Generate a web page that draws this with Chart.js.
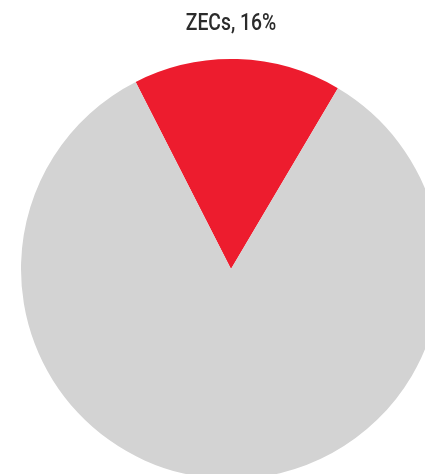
<!DOCTYPE html>
<html>
<head>
<meta charset="utf-8">
<script src="https://cdn.jsdelivr.net/npm/chart.js@4"></script>
<style>
  html, body { margin: 0; padding: 0; width: 425px; height: 474px; overflow: hidden; background: #fff; }
  #wrap { position: relative; width: 425px; height: 474px; overflow: hidden; }
  #box { position: absolute; left: 0; top: 0; width: 462px; height: 538px; }
  #title {
    position: absolute; left: 0; top: 9px; width: 462px; text-align: center;
    font-family: "Roboto", sans-serif; font-size: 23px; font-weight: 500;
    color: #2b2b2b; z-index: 2; transform: scaleX(0.84); transform-origin: 231px 0;
  }
</style>
</head>
<body>
<div id="wrap">
  <div id="box"><canvas id="pieChart" width="462" height="538"></canvas></div>
  <div id="title"></div>
</div>
<script>
const categories = ["ZECs", "Other"];
const shares = [16, 84];
const sliceColors = ["#ED1C2E", "#D3D3D3"];

document.getElementById("title").textContent = `${categories[0]}, ${shares[0]}%`;

const ctx = document.getElementById("pieChart").getContext("2d");
new Chart(ctx, {
  type: "pie",
  data: {
    labels: categories,
    datasets: [
      {
        data: shares,
        backgroundColor: sliceColors,
        borderWidth: 0,
      },
    ],
  },
  options: {
    responsive: false,
    animation: false,
    rotation: -27,
    layout: { padding: { left: 21, right: 21, top: 0, bottom: 0 } },
    plugins: {
      legend: { display: false },
      tooltip: { enabled: false },
    },
  },
});
</script>
</body>
</html>
